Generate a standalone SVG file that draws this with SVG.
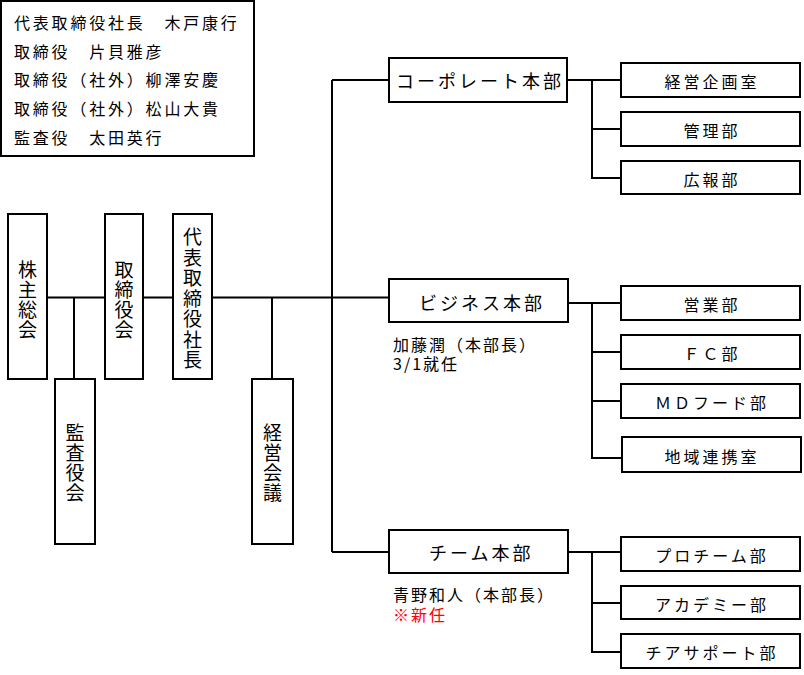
<svg xmlns="http://www.w3.org/2000/svg" width="804" height="675" viewBox="0 0 804 675">
<style>
text{font-family:"Noto Sans CJK JP","Noto Sans CJK SC",sans-serif;fill:#000}
.box{fill:#fff;stroke:#000;stroke-width:2}
.info{font-size:16px;letter-spacing:2.8px}
.vt{font-size:19px;text-anchor:middle}
.hq{font-size:18px;letter-spacing:3px}
.dept{font-size:16px;letter-spacing:3px;text-anchor:middle}
.note{font-size:16px;letter-spacing:2px}
.red{fill:#ff0000}
.con{fill:none;stroke:#000;stroke-width:2}
</style>
<rect width="804" height="675" fill="#fff"/>

<g id="connectors" class="con">
<path d="M47 297.5H389"/>
<path d="M74 297.5V379"/>
<path d="M272 297.5V379"/>
<path d="M332 80V552"/>
<path d="M332 80H389"/>
<path d="M332 552H389"/>
<path d="M567 80H621M592 80V178H621M592 129H621"/>
<path d="M568 303H621M592 303V458H622M592 352H621M592 401H621"/>
<path d="M568 552H621M592 552V652H621M592 603H621"/>
</g>

<g id="info">
<rect class="box" x="1" y="1" width="253" height="155"/>
<text class="info" x="14" y="29">代表取締役社長　木戸康行</text>
<text class="info" x="14" y="57.5">取締役　片貝雅彦</text>
<text class="info" x="14" y="86">取締役（社外）柳澤安慶</text>
<text class="info" x="14" y="115">取締役（社外）松山大貴</text>
<text class="info" x="14" y="143.5">監査役　太田英行</text>
</g>

<g id="shareholders">
<rect class="box" x="8" y="214" width="39" height="165"/>
<text class="vt"><tspan x="27.5" y="277">株</tspan><tspan x="27.5" y="297">主</tspan><tspan x="27.5" y="317">総</tspan><tspan x="27.5" y="337">会</tspan></text>
</g>
<g id="auditors">
<rect class="box" x="55" y="379" width="40" height="165"/>
<text class="vt"><tspan x="75" y="440">監</tspan><tspan x="75" y="460">査</tspan><tspan x="75" y="480">役</tspan><tspan x="75" y="500">会</tspan></text>
</g>
<g id="board">
<rect class="box" x="105" y="214" width="38" height="165"/>
<text class="vt"><tspan x="124" y="277">取</tspan><tspan x="124" y="297">締</tspan><tspan x="124" y="317">役</tspan><tspan x="124" y="337">会</tspan></text>
</g>
<g id="president">
<rect class="box" x="173" y="214" width="39" height="165"/>
<text class="vt"><tspan x="192.5" y="244">代</tspan><tspan x="192.5" y="264.5">表</tspan><tspan x="192.5" y="285">取</tspan><tspan x="192.5" y="305.5">締</tspan><tspan x="192.5" y="326">役</tspan><tspan x="192.5" y="346.5">社</tspan><tspan x="192.5" y="367">長</tspan></text>
</g>
<g id="mgmt-meeting">
<rect class="box" x="252" y="379" width="41" height="165"/>
<text class="vt"><tspan x="272.5" y="440">経</tspan><tspan x="272.5" y="460">営</tspan><tspan x="272.5" y="480">会</tspan><tspan x="272.5" y="500">議</tspan></text>
</g>

<g id="corporate-hq">
<rect class="box" x="389" y="58" width="178" height="44"/>
<text class="hq" x="396" y="88">コーポレート本部</text>
</g>
<g id="business-hq">
<rect class="box" x="389" y="279" width="179" height="43"/>
<text class="hq" x="419" y="310">ビジネス本部</text>
<text class="note" x="393" y="351">加藤潤（本部長）</text>
<text class="note" x="393" y="370">3/1就任</text>
</g>
<g id="team-hq">
<rect class="box" x="389" y="530" width="179" height="43"/>
<text class="hq" x="429" y="560">チーム本部</text>
<text class="note" x="393" y="601">青野和人（本部長）</text>
<text class="note red" x="393" y="621">※新任</text>
</g>

<g id="dept-planning"><rect class="box" x="621" y="63" width="179" height="34"/><text class="dept" x="712" y="88">経営企画室</text></g>
<g id="dept-admin"><rect class="box" x="621" y="112" width="179" height="34"/><text class="dept" x="712" y="137">管理部</text></g>
<g id="dept-pr"><rect class="box" x="621" y="161" width="179" height="33"/><text class="dept" x="712" y="185.5">広報部</text></g>
<g id="dept-sales"><rect class="box" x="621" y="286" width="179" height="34"/><text class="dept" x="712" y="311">営業部</text></g>
<g id="dept-fc"><rect class="box" x="621" y="335" width="179" height="34"/><text class="dept" x="712" y="360">ＦＣ部</text></g>
<g id="dept-md"><rect class="box" x="621" y="384" width="179" height="34"/><text class="dept" x="712" y="409">ＭＤフード部</text></g>
<g id="dept-region"><rect class="box" x="622" y="437" width="179" height="35"/><text class="dept" x="712" y="462.5">地域連携室</text></g>
<g id="dept-pro"><rect class="box" x="621" y="537" width="179" height="34"/><text class="dept" x="712" y="562">プロチーム部</text></g>
<g id="dept-academy"><rect class="box" x="621" y="586" width="179" height="33"/><text class="dept" x="712" y="610.5">アカデミー部</text></g>
<g id="dept-cheer"><rect class="box" x="621" y="634" width="179" height="34"/><text class="dept" x="712" y="659">チアサポート部</text></g>
</svg>
